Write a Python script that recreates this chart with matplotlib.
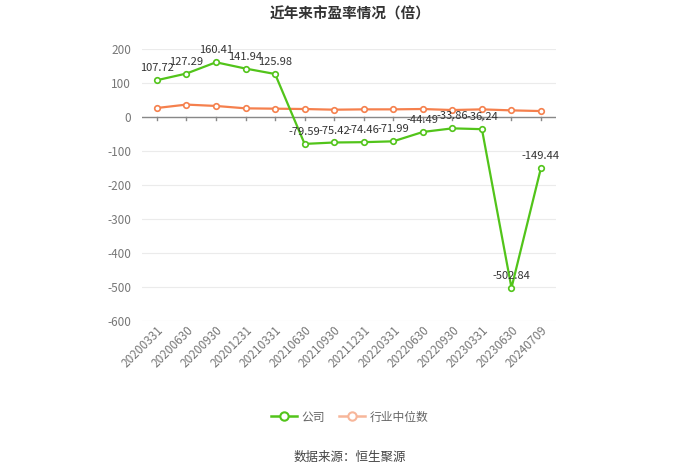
import matplotlib
matplotlib.use("Agg")
import matplotlib.pyplot as plt
from matplotlib.lines import Line2D

plt.rcParams['font.family'] = ['Noto Sans CJK SC', 'DejaVu Sans']

dates = ["20200331", "20200630", "20200930", "20201231", "20210331", "20210630",
         "20210930", "20211231", "20220331", "20220630", "20220930", "20230331",
         "20230630", "20240709"]
company = [107.72, 127.29, 160.41, 141.94, 125.98, -79.59, -75.42, -74.46, -71.99,
           -44.49, -33.86, -36.24, -502.84, -149.44]
industry = [26, 36, 32, 25, 24, 23, 21, 22, 22, 23, 20, 22, 19, 17]
yticks = [200, 100, 0, -100, -200, -300, -400, -500, -600]

green = "#52c41a"
orange = "#f5804d"

fig = plt.figure(figsize=(7, 4.74), dpi=100)
ax = fig.add_axes([0.203, 0.323, 0.591, 0.574])

x = list(range(len(dates)))
ax.plot(x, company, color=green, lw=1.6, marker='o', ms=4, mfc='white',
        mec=green, mew=1.2, zorder=4)
ax.plot(x, industry, color=orange, lw=1.6, marker='o', ms=4, mfc='white',
        mec=orange, mew=1.2, zorder=3)

for xi, v in zip(x, company):
    ax.annotate(f"{v:.2f}", (xi, v), xytext=(0, 5), textcoords='offset points',
                ha='center', va='bottom', fontsize=8, color='#333333', zorder=5)

ax.set_xlim(-0.5, len(dates) - 0.5)
ax.set_ylim(-600, 200)
ax.set_yticks(yticks)
ax.set_yticklabels([str(t) for t in yticks])
ax.grid(axis='y', color='#ebebeb', lw=0.8)
ax.set_axisbelow(True)
for s in ['top', 'right', 'left', 'bottom']:
    ax.spines[s].set_visible(False)
ax.axhline(0, color='#888888', lw=1, zorder=2)
for xi in x:
    ax.plot([xi, xi], [0, -10], color='#888888', lw=1, zorder=2)
ax.tick_params(axis='y', length=0, labelsize=8.5, labelcolor='#777777', pad=8)
ax.tick_params(axis='x', length=0, labelsize=8.5, labelcolor='#777777', pad=2)
ax.set_xticks(x)
ax.set_xticklabels(dates, rotation=45, ha='right', rotation_mode='anchor')

fig.text(0.5, 0.972, "近年来市盈率情况（倍）", ha='center', va='center',
         fontsize=10.5, fontweight='bold', color='#333333')

handles = [Line2D([], [], color=green, lw=1.8, marker='o', ms=6, mfc='white', mec=green, mew=1.5),
           Line2D([], [], color='#f7b69a', lw=1.8, marker='o', ms=6, mfc='white', mec='#f7b69a', mew=1.5)]
leg = fig.legend(handles, ["公司", "行业中位数"], loc='center', bbox_to_anchor=(0.5, 0.12),
                 ncol=2, frameon=False, fontsize=8.5, handlelength=2.2, columnspacing=1.2,
                 handletextpad=0.4)
for t in leg.get_texts():
    t.set_color('#666666')

fig.text(0.5, 0.035, "数据来源：恒生聚源", ha='center', va='center', fontsize=9, color='#444444')

fig.savefig("out.png", dpi=100)
